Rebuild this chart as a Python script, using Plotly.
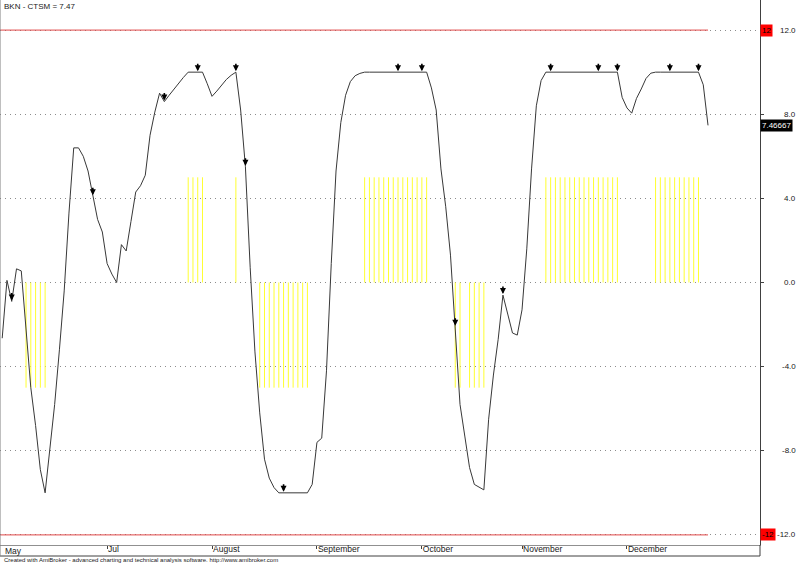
import plotly.graph_objects as go

# ---------------- data ----------------
title_text = "BKN - CTSM = 7.47"
footer_text = "Created with AmiBroker - advanced charting and technical analysis software. http://www.amibroker.com"

ctsm = [
    -2.65, 0.1, -0.9, 0.65, 0.55, -2.4, -5.0, -6.8, -8.9, -10.0,
    -7.9, -5.8, -3.2, -0.4, 3.3, 6.4, 6.4, 6.0, 5.3, 4.1,
    3.0, 2.4, 0.9, 0.4, 0.0, 1.8, 1.5, 2.9, 4.3, 4.6,
    5.1, 7.0, 8.1, 9.0, 8.6, 8.9, 9.2, 9.5, 9.75, 10.0,
    10.0, 10.0, 10.0, 9.45, 8.85, 9.1, 9.4, 9.65, 9.85, 10.0,
    8.2, 5.5, 0.7, -3.3, -6.2, -8.4, -9.3, -9.75, -10.0, -10.0,
    -10.0, -10.0, -10.0, -10.0, -10.0, -9.6, -7.6, -7.4, -4.2, 0.9,
    5.3, 7.6, 8.9, 9.55, 9.83, 9.94, 10.0, 10.0, 10.0, 10.0,
    10.0, 10.0, 10.0, 10.0, 10.0, 10.0, 10.0, 10.0, 10.0, 10.0,
    9.25, 8.2, 5.4, 3.6, 1.3, -2.1, -5.8, -7.3, -8.8, -9.6,
    -9.75, -9.86, -6.5, -4.4, -2.7, -0.6, -1.5, -2.4, -2.5, -1.3,
    1.6, 5.4, 8.4, 9.6, 10.0, 10.0, 10.0, 10.0, 10.0, 10.0,
    10.0, 10.0, 10.0, 10.0, 10.0, 10.0, 10.0, 10.0, 10.0, 10.0,
    8.8, 8.3, 8.05, 8.75, 9.2, 9.7, 9.95, 10.0, 10.0, 10.0,
    10.0, 10.0, 10.0, 10.0, 10.0, 10.0, 10.0, 9.4, 7.47,
]

pos_signal_idx = [39, 40, 41, 42, 49,
                  76, 77, 78, 79, 80, 81, 82, 83, 84, 85, 86, 87, 88, 89,
                  114, 115, 116, 117, 118, 119, 120, 121, 122, 123, 124, 125, 126, 127, 128, 129,
                  137, 138, 139, 140, 141, 142, 143, 144, 145, 146]
neg_signal_idx = [5, 6, 7, 8, 9,
                  54, 55, 56, 57, 58, 59, 60, 61, 62, 63, 64,
                  95, 96, 98, 99, 100, 101]
signal_level = 5

arrow_idx = [2, 19, 34, 41, 49, 51, 59, 83, 88, 95, 105, 115, 125, 129, 140, 146]

first_month_label = "May"
month_ticks = [22, 44, 66, 88, 109, 131]
month_labels = ["Jul", "August", "September", "October", "November", "December"]

y_ticks = [12, 8, 4, 0, -4, -8, -12]
y_tick_labels = ["12.0", "8.0", "4.0", "0.0", "-4.0", "-8.0", "-12.0"]

band_levels = [12, -12]
band_labels = ["12", "-12"]
last_value_label = "7.46667"

# ---------------- figure ----------------
N = len(ctsm)
x = list(range(N))
x_min, x_max = -0.46, 158.9
y_min, y_max = -12.48, 13.43
FONT = "Liberation Sans, Arial, sans-serif"

fig = go.Figure()

# yellow signal lines
def stick_trace(idxs, level):
    xs, ys = [], []
    for i in idxs:
        xs += [i, i, None]
        ys += [0, level, None]
    return go.Scatter(x=xs, y=ys, mode="lines",
                      line=dict(color="#ffff30", width=1),
                      hoverinfo="skip", showlegend=False)

fig.add_trace(stick_trace(pos_signal_idx, signal_level))
fig.add_trace(stick_trace(neg_signal_idx, -signal_level))

# red band lines
for lv in band_levels:
    fig.add_trace(go.Scatter(x=[x_min, N - 1], y=[lv, lv], mode="lines",
                             line=dict(color="#e04848", width=1),
                             hoverinfo="skip", showlegend=False))

# main CTSM line
fig.add_trace(go.Scatter(x=x, y=ctsm, mode="lines",
                         line=dict(color="#383838", width=1),
                         showlegend=False))

annotations = []
# arrows
for i in arrow_idx:
    annotations.append(dict(x=i, y=ctsm[i], xref="x", yref="y", text="",
                            showarrow=True, ax=0, ay=-10, arrowhead=2,
                            arrowsize=0.75, arrowwidth=1.6, arrowcolor="black",
                            standoff=1))

# title
annotations.append(dict(x=0.003, y=1.0, xref="paper", yref="paper", text=title_text,
                        showarrow=False, xanchor="left", yanchor="top",
                        font=dict(family=FONT, size=8, color="#202020")))
# footer
annotations.append(dict(x=0.002, y=-14.5 / 545, xref="paper", yref="paper", text=footer_text,
                        showarrow=False, xanchor="left", yanchor="middle",
                        font=dict(family=FONT, size=6, color="#202020")))
# first month label (no tick mark in the original)
annotations.append(dict(x=0.004, y=-5.5 / 545, xref="paper", yref="paper", text=first_month_label,
                        showarrow=False, xanchor="left", yanchor="middle",
                        font=dict(family=FONT, size=8.5, color="#202020")))

# right axis tick labels (right aligned)
for v, t in zip(y_ticks, y_tick_labels):
    annotations.append(dict(x=798 / 760, y=v, xref="paper", yref="y", text=t,
                            showarrow=False, xanchor="right", yanchor="middle",
                            font=dict(family=FONT, size=8, color="#202020")))

# red band value boxes
for v, t in zip(band_levels, band_labels):
    annotations.append(dict(x=1.0, y=v, xref="paper", yref="y", text=t,
                            showarrow=False, xanchor="left", yanchor="middle",
                            bgcolor="#ff0000", borderpad=1,
                            font=dict(family=FONT, size=8, color="black")))

# last value box
annotations.append(dict(x=1.0, y=ctsm[-1], xref="paper", yref="y", text=last_value_label,
                        showarrow=False, xanchor="left", yanchor="middle",
                        bgcolor="black", borderpad=1,
                        font=dict(family=FONT, size=8, color="white")))

shapes = [
    # bottom frame line under the date band
    dict(type="line", xref="paper", yref="paper", x0=0, x1=1, y0=-11 / 545, y1=-11 / 545,
         line=dict(color="#404040", width=1)),
    # right axis extension
    dict(type="line", xref="paper", yref="paper", x0=1, x1=1, y0=-11 / 545, y1=0,
         line=dict(color="#404040", width=1)),
    # left border
    dict(type="line", xref="paper", yref="paper", x0=0, x1=0, y0=-11 / 545, y1=1,
         line=dict(color="#808080", width=1)),
]

fig.update_layout(
    width=800, height=564,
    margin=dict(l=0, r=40, t=0, b=19, autoexpand=False),
    paper_bgcolor="white", plot_bgcolor="white",
    showlegend=False,
    annotations=annotations,
    shapes=shapes,
    xaxis=dict(range=[x_min, x_max], showgrid=False, zeroline=False,
               showline=True, linecolor="#909090", linewidth=1,
               ticks="outside", ticklen=3, tickcolor="#404040",
               tickvals=month_ticks, ticktext=month_labels,
               ticklabelposition="outside right", ticklabelstandoff=-4,
               tickfont=dict(family=FONT, size=8.5, color="#202020"),
               automargin=False, fixedrange=True),
    yaxis=dict(range=[y_min, y_max], side="right", tickvals=y_ticks,
               showticklabels=False, showgrid=True, gridcolor="#8c8c8c",
               griddash="1px,4px", gridwidth=1, zeroline=False,
               showline=True, linecolor="#404040", linewidth=1,
               ticks="outside", ticklen=3, tickcolor="#404040",
               automargin=False, fixedrange=True),
)

fig.write_html("out.html", config={"displayModeBar": False},
               post_script="document.body.style.margin='0';document.body.style.overflow='hidden';")
